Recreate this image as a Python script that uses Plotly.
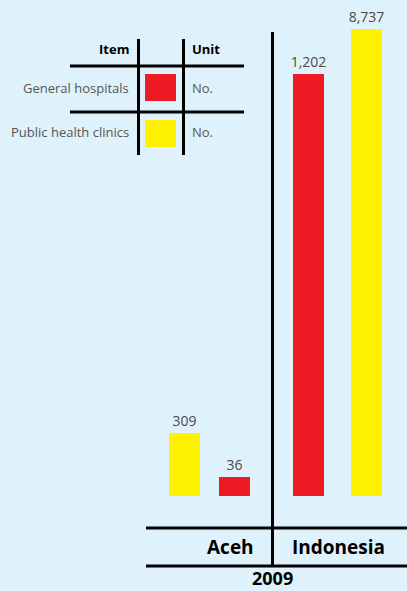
import plotly.graph_objects as go

# ---- data ----
regions = ["Aceh", "Indonesia"]
items = ["General hospitals", "Public health clinics"]
units = ["No.", "No."]
hospitals = [36, 1202]
clinics = [309, 8737]
year = "2009"
header_item = "Item"
header_unit = "Unit"

W, H = 407, 591
BG = "#dff1fb"
RED = "#ed1c24"
YELLOW = "#fff200"
item_colors = {items[0]: RED, items[1]: YELLOW}
FONT = "Open Sans"
LINE = "#000000"


def px(x):
    return x / W


def py(y):
    return 1 - y / H


fig = go.Figure()

# Aceh panel: clinics first, then hospitals
aceh_x = [items[1], items[0]]
aceh_y = [clinics[0], hospitals[0]]
fig.add_trace(go.Bar(
    x=aceh_x, y=aceh_y, xaxis="x", yaxis="y",
    marker=dict(color=[item_colors[i] for i in aceh_x], line=dict(width=0)),
    width=0.62,
    texttemplate="%{y:,}", textposition="outside", constraintext="none",
    cliponaxis=False,
    textfont=dict(family=FONT, size=14, color="#4a4a4a"),
    showlegend=False, hoverinfo="skip",
))

# Indonesia panel: hospitals first, then clinics
ind_x = [items[0], items[1]]
ind_y = [hospitals[1], clinics[1]]
fig.add_trace(go.Bar(
    x=ind_x, y=ind_y, xaxis="x2", yaxis="y2",
    marker=dict(color=[item_colors[i] for i in ind_x], line=dict(width=0)),
    width=0.534,
    texttemplate="%{y:,}", textposition="outside", constraintext="none",
    cliponaxis=False,
    textfont=dict(family=FONT, size=14, color="#4a4a4a"),
    showlegend=False, hoverinfo="skip",
))

ydom = [py(496), py(29)]
hidden = dict(showgrid=False, zeroline=False, showticklabels=False,
              ticks="", showline=False, fixedrange=True)

fig.update_layout(
    width=W, height=H,
    margin=dict(l=0, r=0, t=0, b=0),
    paper_bgcolor=BG, plot_bgcolor="rgba(0,0,0,0)",
    xaxis=dict(domain=[px(159.5), px(259.5)], type="category",
               range=[-0.5, 1.5], **hidden),
    yaxis=dict(domain=ydom, type="log", range=[1.153, 11.064], **hidden),
    xaxis2=dict(domain=[px(279.5), px(395.5)], type="category",
                range=[-0.5, 1.5], anchor="y2", **hidden),
    yaxis2=dict(domain=ydom, type="log", range=[-5.0, 3.9414],
                anchor="x2", **hidden),
)

shapes = []


def line(x0, y0, x1, y1, w=3):
    shapes.append(dict(type="line", xref="paper", yref="paper",
                       x0=px(x0), y0=py(y0), x1=px(x1), y1=py(y1),
                       line=dict(color=LINE, width=w)))


# chart frame lines
line(272.5, 32, 272.5, 566, 3)
line(146, 528, 407, 528, 3)
line(146, 566, 407, 566, 3)
# legend table lines
line(70, 66, 244, 66, 3)
line(70, 112, 244, 112, 3)
line(138.5, 39, 138.5, 155, 3)
line(183.5, 39, 183.5, 155, 3)

# legend swatches
row_y = [(74, 101), (120, 147)]
for it, (y0, y1) in zip(items, row_y):
    shapes.append(dict(type="rect", xref="paper", yref="paper",
                       x0=px(145), x1=px(176), y0=py(y1), y1=py(y0),
                       fillcolor=item_colors[it], line=dict(width=0)))
fig.update_layout(shapes=shapes)

ann = []


def text(t, x, y, xanchor="center", size=13, bold=False, color="#555555"):
    ann.append(dict(text=f"<b>{t}</b>" if bold else t, x=px(x), y=py(y),
                    xref="paper", yref="paper", xanchor=xanchor,
                    yanchor="middle", showarrow=False,
                    font=dict(family=FONT, size=size, color=color)))


text(header_item, 131, 49, "right", 13, True, "#000000")
text(header_unit, 190, 49, "left", 13, True, "#000000")
for it, u, yc in zip(items, units, [88, 132]):
    text(it, 131, yc, "right", 13)
    text(u, 190, yc, "left", 13)

text(regions[0], 230.5, 547, "center", 19, True, "#000000")
text(regions[1], 338, 547, "center", 19, True, "#000000")
text(year, 272.5, 578, "center", 18, True, "#000000")
fig.update_layout(annotations=ann)

fig.write_html(
    "out.html",
    config={"displayModeBar": False, "staticPlot": True},
    post_script="document.body.style.margin='0';document.body.style.overflow='hidden';",
)
